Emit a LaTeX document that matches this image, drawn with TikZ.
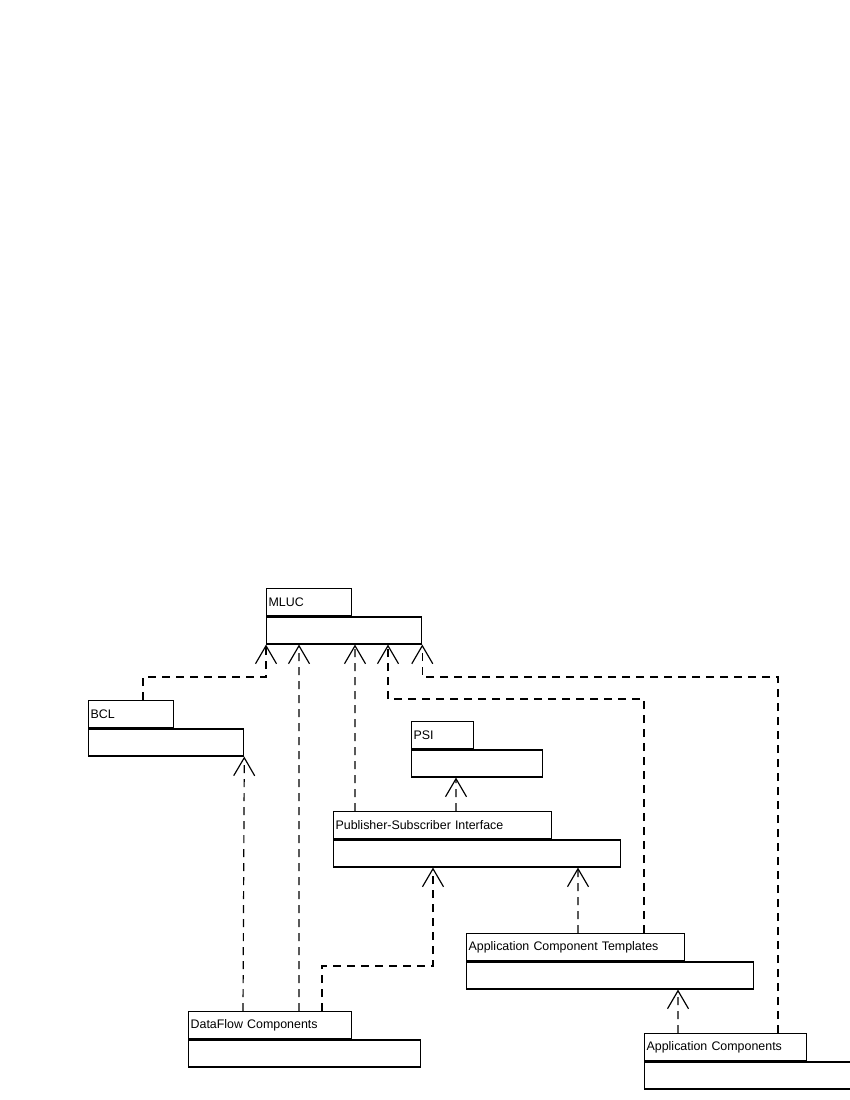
\documentclass[tikz,border=0pt]{standalone}
\usepackage{fontspec}
\setmainfont{Liberation Sans}
\usetikzlibrary{arrows.meta}

\begin{document}
\begin{tikzpicture}[x=0.3mm,y=-0.3mm,
  pkgtab/.style={draw,line width=1.1pt,anchor=north west,inner xsep=0.6mm,inner ysep=0pt,
    minimum height=8.1mm,align=left,font=\fontsize{10.6}{12}\selectfont},
  pkgbody/.style={draw,line width=1.1pt,anchor=north west,inner sep=0pt,minimum height=8.1mm},
  dep/.style={line width=1pt,dash pattern=on 2.4mm off 1.8mm,
    -{Straight Barb[length=5.4mm,width=6.3mm]}}]
  \path[fill=white,use as bounding box] (0,0) rectangle (850,1100);

  % packages
  \node[pkgtab,text width=24.3mm] (mluc) at (266,588) {MLUC};
  \node[pkgbody,minimum width=46.5mm] (mluc body) at (mluc.south west) {};
  \node[pkgtab,text width=24.3mm] (bcl) at (88,700) {BCL};
  \node[pkgbody,minimum width=46.5mm] (bcl body) at (bcl.south west) {};
  \node[pkgtab,text width=17.4mm] (psi) at (411,721) {PSI};
  \node[pkgbody,minimum width=39.3mm] (psi body) at (psi.south west) {};
  \node[pkgtab,text width=64.2mm] (psif) at (333,811) {Publisher-Subscriber Interface};
  \node[pkgbody,minimum width=86.1mm] (psif body) at (psif.south west) {};
  \node[pkgtab,text width=64.2mm] (act) at (466,933) {Application Component Templates};
  \node[pkgbody,minimum width=86.1mm] (act body) at (act.south west) {};
  \node[pkgtab,text width=47.7mm] (dfc) at (188,1011) {DataFlow Components};
  \node[pkgbody,minimum width=69.6mm] (dfc body) at (dfc.south west) {};
  \node[pkgtab,text width=47.4mm] (ac) at (644,1033) {Application Components};
  \node[pkgbody,minimum width=64.5mm] (ac body) at (ac.south west) {};

  % dependencies
  \draw[dep] ([xshift=16.5mm]bcl.north west) -- ++(0,-23) -| (mluc body.south west);
  \draw[dep] ([xshift=33.3mm]dfc.north west) -- ([xshift=9.9mm]mluc body.south west);
  \draw[dep] ([xshift=6.6mm]psif.north west) -- ([xshift=26.7mm]mluc body.south west);
  \draw[dep] ([xshift=53.4mm]act.north west) -- ++(0,-234) -| ([xshift=36.6mm]mluc body.south west);
  \draw[dep] ([xshift=40.2mm]ac.north west) -- ++(0,-356) -| (mluc body.south east);
  \draw[dep] ([xshift=16.5mm]dfc.north west) -- (bcl body.south east);
  \draw[dep] ([xshift=40.2mm]dfc.north west) -- ++(0,-45) -| ([xshift=30mm]psif body.south west);
  \draw[dep] ([xshift=36.9mm]psif.north west) -- ([xshift=13.5mm]psi body.south west);
  \draw[dep] ([xshift=33.6mm]act.north west) -- ([xshift=73.5mm]psif body.south west);
  \draw[dep] ([xshift=10.2mm]ac.north west) -- ([xshift=63.6mm]act body.south west);
\end{tikzpicture}
\end{document}
